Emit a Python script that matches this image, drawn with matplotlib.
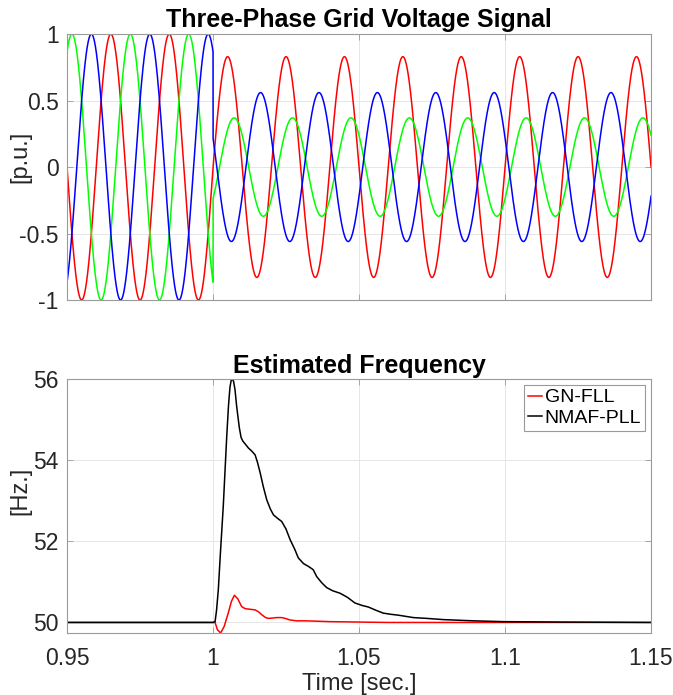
import numpy as np
import matplotlib
matplotlib.use("Agg")
import matplotlib.pyplot as plt

plt.rcParams["font.family"] = ["Liberation Sans", "DejaVu Sans"]

# ---- three-phase voltage: per-phase amplitude / phase before and after the fault at t = 1 s
grid_freq = 50.0
fault_time = 1.0
phase_colors = ["red", "#00ff00", "blue"]
amp_pre = [1.0, 1.0, 1.0]
phase_pre_deg = [0.0, -120.0, 120.0]
amp_post = [0.83, 0.37, 0.56]
phase_post_deg = [0.0, -40.0, 157.0]

# ---- estimated frequency
t_gn = [0.95, 1.0, 1.0007, 1.0015, 1.0026, 1.0038, 1.0052, 1.0063, 1.0073, 1.0085,
        1.0098, 1.0110, 1.0121, 1.0144, 1.0156, 1.0167, 1.0180, 1.0190, 1.0205,
        1.0218, 1.0235, 1.0247, 1.0264, 1.0287, 1.0320, 1.0400, 1.0500, 1.0600, 1.15]
f_gn = [50.0, 50.0, 50.0, 49.82, 49.74, 49.90, 50.23, 50.52, 50.67, 50.58,
        50.39, 50.34, 50.33, 50.31, 50.26, 50.19, 50.12, 50.10, 50.11,
        50.12, 50.12, 50.10, 50.06, 50.04, 50.04, 50.02, 50.01, 50.0, 50.0]

t_nmaf = [0.95, 1.0, 1.0007, 1.0012, 1.0018, 1.0026, 1.0035, 1.0047, 1.0053, 1.0058,
          1.0062, 1.0066, 1.0070, 1.0075, 1.0081, 1.0090, 1.0096, 1.0102, 1.0110,
          1.0121, 1.0133, 1.0144, 1.0152, 1.0161, 1.0172, 1.0184, 1.0196, 1.0207,
          1.0222, 1.0235, 1.0250, 1.0264, 1.0280, 1.0292, 1.0310, 1.0327, 1.0343,
          1.0355, 1.0372, 1.0389, 1.0410, 1.0435, 1.0460, 1.0486, 1.0510, 1.0532,
          1.0558, 1.0583, 1.0610, 1.0634, 1.0660, 1.0686, 1.0732, 1.0789, 1.0892,
          1.0994, 1.12, 1.15]
f_nmaf = [50.0, 50.0, 50.02, 50.30, 50.80, 51.80, 52.86, 54.60, 55.35, 55.80,
          55.96, 56.0, 55.95, 55.75, 55.32, 54.80, 54.56, 54.47, 54.40,
          54.30, 54.22, 54.13, 53.95, 53.70, 53.35, 53.02, 52.80, 52.65,
          52.56, 52.49, 52.30, 52.04, 51.80, 51.59, 51.45, 51.38, 51.30,
          51.13, 50.98, 50.86, 50.78, 50.72, 50.62, 50.48, 50.42, 50.38,
          50.30, 50.23, 50.20, 50.18, 50.15, 50.12, 50.10, 50.07, 50.04,
          50.02, 50.01, 50.0]

grid_col = "#e6e6e6"
spine_col = "#9a9a9a"
text_col = "#262626"


def style_axes(ax):
    for sp in ax.spines.values():
        sp.set_color(spine_col)
        sp.set_linewidth(0.8)
    ax.tick_params(direction="in", which="both", top=True, right=True,
                   length=4, width=0.6, color=spine_col, labelcolor=text_col,
                   labelsize=16.5, pad=6)
    ax.tick_params(axis="x", pad=10)
    ax.grid(True, color=grid_col, linewidth=0.7)
    ax.set_axisbelow(True)


fig = plt.figure(figsize=(6.73, 6.95), dpi=100)
ax1 = fig.add_axes([0.0996, 0.5683, 0.8678, 0.3827])
ax2 = fig.add_axes([0.0996, 0.0892, 0.8678, 0.3655])

w = 2 * np.pi * grid_freq
t_pre = np.linspace(0.95, fault_time, 1501)
t_post = np.linspace(fault_time, 1.15, 6001)
for col, a0, p0, a1, p1 in zip(phase_colors, amp_pre, phase_pre_deg, amp_post, phase_post_deg):
    v_pre = a0 * np.sin(w * t_pre + np.deg2rad(p0))
    v_post = a1 * np.sin(w * t_post + np.deg2rad(p1))
    ax1.plot(np.concatenate([t_pre, t_post]), np.concatenate([v_pre, v_post]),
             color=col, linewidth=1.1)

ax1.set_xlim(0.95, 1.15)
ax1.set_ylim(-1, 1)
ax1.set_xticks([0.95, 1.0, 1.05, 1.1, 1.15])
ax1.set_xticklabels([])
ax1.set_yticks([-1, -0.5, 0, 0.5, 1])
ax1.set_yticklabels(["-1", "-0.5", "0", "0.5", "1"])
ax1.set_ylabel("[p.u.]", fontsize=17, color=text_col, va="center")
ax1.yaxis.set_label_coords(-0.08, 0.54)
ax1.set_title("Three-Phase Grid Voltage Signal", fontsize=18, fontweight="bold", pad=5)
style_axes(ax1)

ax2.plot(t_gn, f_gn, color="red", linewidth=1.1, label="GN-FLL")
ax2.plot(t_nmaf, f_nmaf, color="black", linewidth=1.1, label="NMAF-PLL")
ax2.set_xlim(0.95, 1.15)
ax2.set_ylim(49.74, 56.0)
ax2.set_xticks([0.95, 1.0, 1.05, 1.1, 1.15])
ax2.set_xticklabels(["0.95", "1", "1.05", "1.1", "1.15"])
ax2.set_yticks([50, 52, 54, 56])
ax2.set_xlabel("Time [sec.]", fontsize=17, color=text_col, labelpad=2)
ax2.set_ylabel("[Hz.]", fontsize=17, color=text_col, va="center")
ax2.yaxis.set_label_coords(-0.08, 0.56)
ax2.set_title("Estimated Frequency", fontsize=18, fontweight="bold", pad=4)
style_axes(ax2)
leg = ax2.legend(loc="upper right", fontsize=14, handlelength=0.7, handletextpad=0.15,
                 borderpad=0.2, labelspacing=0.15, fancybox=False, framealpha=1,
                 borderaxespad=0.3, edgecolor=spine_col)
leg.get_frame().set_linewidth(0.8)

fig.savefig("out.png", dpi=100)
